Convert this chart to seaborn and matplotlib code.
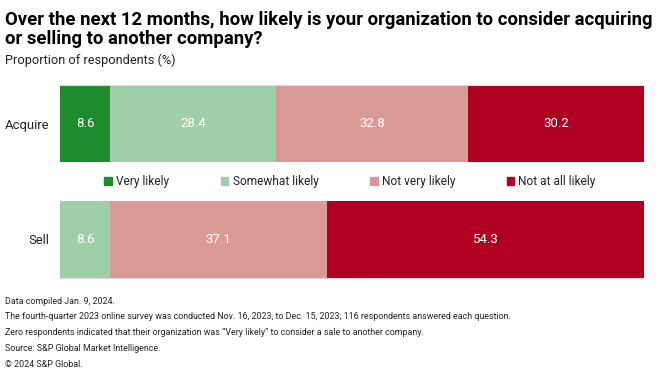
import matplotlib
matplotlib.use('Agg')
import matplotlib.pyplot as plt
import matplotlib.patches as mpatches
import numpy as np
import pandas as pd
import seaborn as sns

groups = ['Acquire', 'Sell']
levels = ['Very likely', 'Somewhat likely', 'Not very likely', 'Not at all likely']
acquire = [8.6, 28.4, 32.8, 30.2]
sell = [0.0, 8.6, 37.1, 54.3]
colors = ['#1e8c2e', '#9fcfa8', '#d99a96', '#b00022']

title_lines = ['Over the next 12 months, how likely is your organization to consider acquiring',
               'or selling to another company?']
subtitle = 'Proportion of respondents (%)'
notes = ['Data compiled Jan. 9, 2024.',
         'The fourth-quarter 2023 online survey was conducted Nov. 16, 2023, to Dec. 15, 2023; 116 respondents answered each question.',
         'Zero respondents indicated that their organization was \u201cVery likely\u201d to consider a sale to another company.',
         'Source: S&P Global Market Intelligence.',
         '\u00a9 2024 S&P Global.']

sns.set_theme(style='white')
plt.rcParams['font.family'] = ['Roboto', 'DejaVu Sans']
text_color = '#222222'

df = pd.DataFrame({
    'group': np.repeat(groups, len(levels)),
    'level': levels * len(groups),
    'value': acquire + sell,
})
df['cum'] = df.groupby('group')['value'].cumsum()
df['start'] = df['cum'] - df['value']

W, H = 660, 381
fig = plt.figure(figsize=(W / 100, H / 100), dpi=100)
ax = fig.add_axes([60 / W, 1 - 278 / H, 584 / W, 193 / H])

# stacked bars: draw cumulative totals, largest first
for lvl, col in reversed(list(zip(levels, colors))):
    sub = df[df['level'] == lvl]
    sns.barplot(data=sub, x='cum', y='group', order=groups, color=col,
                width=0.67, saturation=1, errorbar=None, linewidth=0, ax=ax)

for _, row in df.iterrows():
    if row['value'] > 0:
        ax.text(row['start'] + row['value'] / 2, groups.index(row['group']),
                f"{row['value']:.1f}", ha='center', va='center',
                color='white', fontsize=9.5)

ax.set_xlim(0, 100)
ax.set_ylim(1.335, -0.335)
ax.set_xlabel('')
ax.set_ylabel('')
ax.set_xticks([])
ax.tick_params(axis='y', length=0, pad=8, labelsize=9.4, labelcolor=text_color)
for s in ['left', 'right']:
    ax.spines[s].set_visible(False)
for s in ['top', 'bottom']:
    ax.spines[s].set_color('#dddddd')
    ax.spines[s].set_linewidth(0.8)

handles = [mpatches.Patch(color=c, label=l) for l, c in zip(levels, colors)]
fig.legend(handles=handles, loc='center', bbox_to_anchor=(350 / W, 1 - 182 / H),
           ncol=4, frameon=False, handlelength=0.65, handleheight=0.65,
           handletextpad=0.35, columnspacing=4.3, fontsize=8.6,
           labelcolor=text_color)

fig.text(5 / W, 1 - 20 / H, title_lines[0], fontsize=13.35, fontweight='bold',
         va='center', color='black')
fig.text(5 / W, 1 - 39 / H, title_lines[1], fontsize=13.35, fontweight='bold',
         va='center', color='black')
fig.text(5 / W, 1 - 60 / H, subtitle, fontsize=9.2, va='center', color=text_color)

for i, line in enumerate(notes):
    fig.text(5 / W, 1 - (301 + i * 15.8) / H, line, fontsize=6.4,
             va='center', color=text_color)

fig.savefig('out.png', dpi=100)
